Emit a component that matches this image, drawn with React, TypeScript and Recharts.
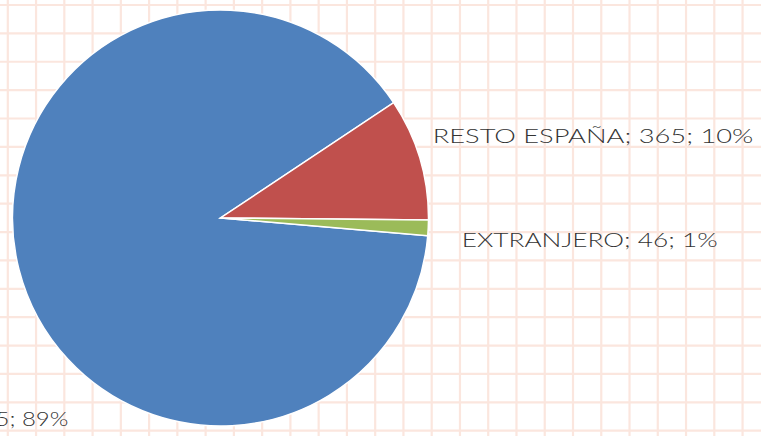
import React from 'react';
import { PieChart, Pie, Cell } from 'recharts';

const categories = ['ASTURIAS', 'RESTO ESPAÑA', 'EXTRANJERO'];
const values = [3425, 365, 46];
const percentLabels = ['89%', '10%', '1%'];
const colors = ['#4f81bd', '#c0504d', '#9bbb59'];

const data = categories.map((name, i) => ({ name, value: values[i], pct: percentLabels[i] }));

const W = 761;
const H = 436;

// label layout relative to pie centre
const labelLayout: Record<string, { dx: number; dy: number; anchor: 'start' | 'end'; len: number }> = {
  'ASTURIAS': { dx: -152.2, dy: 208, anchor: 'end', len: 236 },
  'RESTO ESPAÑA': { dx: 212.2, dy: -75.5, anchor: 'start', len: 320.6 },
  'EXTRANJERO': { dx: 241.2, dy: 29, anchor: 'start', len: 256 },
};

const renderLabel = (props: any) => {
  const { cx, cy, name, value, payload } = props;
  const l = labelLayout[name];
  if (!l) return null;
  const txt = `${name}; ${value}; ${payload?.pct ?? ''}`;
  return (
    <text
      x={cx + l.dx}
      y={cy + l.dy}
      textAnchor={l.anchor}
      fill="#333333"
      fontFamily="Lato, 'DejaVu Sans', sans-serif"
      fontWeight={300}
      fontSize={19}
      textLength={l.len}
      lengthAdjust="spacingAndGlyphs"
    >
      {txt}
    </text>
  );
};

const GridBg = () => {
  const vx: number[] = [];
  for (let x = 7.8; x < W; x += 28.26) vx.push(x);
  const hy: number[] = [];
  for (let y = 5; y < H; y += 28.38) hy.push(y);
  return (
    <svg width={W} height={H} style={{ position: 'absolute', left: 0, top: 0 }}>
      <rect x={0} y={0} width={W} height={H} fill="#ffffff" />
      {vx.map((x, i) => (
        <line key={'v' + i} x1={x} x2={x} y1={0} y2={H} stroke="#fbe6de" strokeWidth={2.2} />
      ))}
      {hy.map((y, i) => (
        <line key={'h' + i} x1={0} x2={W} y1={y} y2={y} stroke="#fbe6de" strokeWidth={2.2} />
      ))}
    </svg>
  );
};

export default function App() {
  return (
    <div style={{ position: 'absolute', left: 0, top: 0, width: W, height: H, overflow: 'hidden' }}>
      <GridBg />
      <div style={{ position: 'absolute', left: 0, top: 0 }}>
        <PieChart width={W} height={H} margin={{ top: 0, right: 0, bottom: 0, left: 0 }}>
          <Pie
            data={data}
            dataKey="value"
            nameKey="name"
            cx={220.5}
            cy={218}
            outerRadius={208}
            startAngle={-4.9}
            endAngle={-364.9}
            stroke="#ffffff"
            strokeWidth={1.5}
            label={renderLabel}
            labelLine={false}
            isAnimationActive={false}
          >
            {data.map((d, i) => (
              <Cell key={d.name} fill={colors[i]} />
            ))}
          </Pie>
        </PieChart>
      </div>
    </div>
  );
}
